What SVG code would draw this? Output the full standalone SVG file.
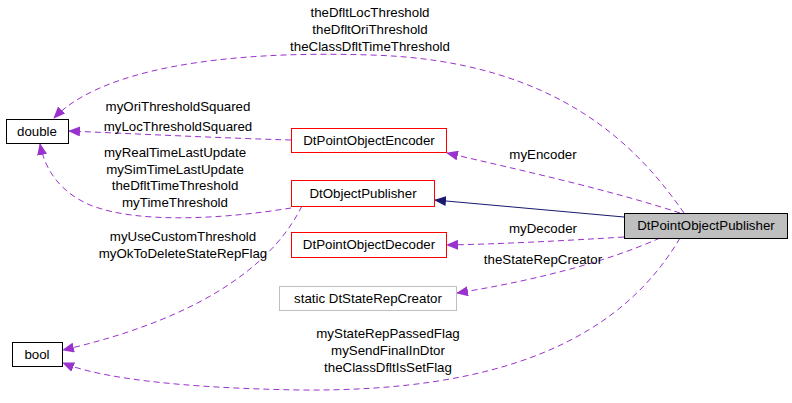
<svg xmlns="http://www.w3.org/2000/svg" width="792" height="403" viewBox="0 0 792 403">
<style>
text{font-family:"Liberation Sans",Arial,sans-serif;font-size:13.3px;fill:#000;text-anchor:middle}
.n{fill:#fff;stroke:#000;stroke-width:1}
.r{fill:#fff;stroke:#ff0000;stroke-width:1}
.g{fill:#fff;stroke:#bfbfbf;stroke-width:1}
.e{fill:none;stroke:#9a32cd;stroke-width:1;stroke-dasharray:6,4}
.i{fill:none;stroke:#191970;stroke-width:1}
</style>
<defs>
<marker id="p" viewBox="0 0 12 10" refX="11" refY="5" markerWidth="12" markerHeight="10" markerUnits="userSpaceOnUse" orient="auto"><path d="M0,0L12,5L0,10z" fill="#9a32cd"/></marker>
<marker id="b" viewBox="0 0 12 10" refX="11" refY="5" markerWidth="12" markerHeight="10" markerUnits="userSpaceOnUse" orient="auto"><path d="M0,0L12,5L0,10z" fill="#191970"/></marker>
</defs>
<g id="edges">
<path class="e" marker-end="url(#p)" d="M684,213C640,150 560,60 370,55C220,50 100,70 54,118"/>
<text x="370" y="17">theDfltLocThreshold</text><text x="370" y="34">theDfltOriThreshold</text><text x="370" y="51">theClassDfltTimeThreshold</text>
<path class="e" marker-end="url(#p)" d="M291,140C220,138 140,134 69,131"/>
<text x="178" y="111">myOriThresholdSquared</text><text x="178" y="131">myLocThresholdSquared</text>
<path class="e" marker-end="url(#p)" d="M291,208C230,218 140,225 90,205C60,192 45,170 40,144"/>
<text x="175" y="157">myRealTimeLastUpdate</text><text x="175" y="174">mySimTimeLastUpdate</text><text x="175" y="190">theDfltTimeThreshold</text><text x="175" y="207">myTimeThreshold</text>
<path class="e" marker-end="url(#p)" d="M302,206C260,290 150,330 63,350"/>
<text x="183" y="241">myUseCustomThreshold</text><text x="183" y="258">myOkToDeleteStateRepFlag</text>
<path class="e" marker-end="url(#p)" d="M680,238C620,340 500,392 300,390C180,388 100,378 63,363"/>
<text x="388" y="338">myStateRepPassedFlag</text><text x="388" y="355">mySendFinalInDtor</text><text x="388" y="372">theClassDfltIsSetFlag</text>
<path class="e" marker-end="url(#p)" d="M680,213C610,190 520,170 447,153"/>
<text x="543" y="159">myEncoder</text>
<path class="i" marker-end="url(#b)" d="M624,217L435,200"/>
<path class="e" marker-end="url(#p)" d="M624,237C560,241 500,244 447,245"/>
<text x="543" y="233">myDecoder</text>
<path class="e" marker-end="url(#p)" d="M660,238C600,265 520,283 457,293"/>
<text x="543" y="264">theStateRepCreator</text>
</g>
<g id="double"><rect class="n" x="6.5" y="119.5" width="62" height="24"/><text x="37" y="136">double</text></g>
<g id="bool"><rect class="n" x="12.5" y="342.5" width="50" height="24"/><text x="37" y="359">bool</text></g>
<g id="enc"><rect class="r" x="291.5" y="128.5" width="155" height="24"/><text x="369" y="145">DtPointObjectEncoder</text></g>
<g id="pub"><rect class="r" x="291.5" y="180.5" width="143" height="26"/><text x="363" y="198">DtObjectPublisher</text></g>
<g id="dec"><rect class="r" x="291.5" y="232.5" width="155" height="25"/><text x="369" y="249">DtPointObjectDecoder</text></g>
<g id="src"><rect class="g" x="279.5" y="286.5" width="177" height="24"/><text x="368" y="303">static DtStateRepCreator</text></g>
<g id="main"><rect x="624.5" y="213.5" width="163" height="25" fill="#bfbfbf" stroke="#000"/><text x="706" y="230">DtPointObjectPublisher</text></g>
</svg>
